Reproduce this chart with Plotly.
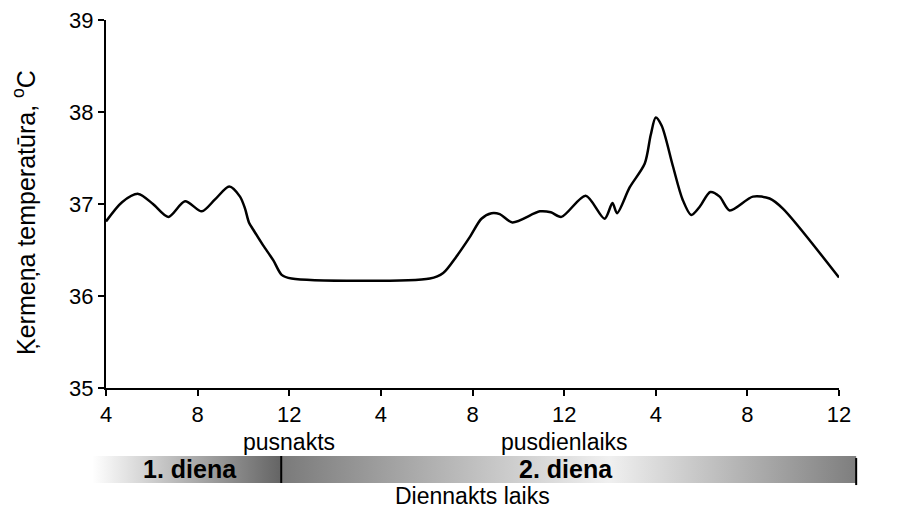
import plotly.graph_objects as go

# ---- data ----
hours = [16.0, 16.7, 17.41, 18.05, 18.72, 19.45, 20.18, 20.76, 21.38, 21.85, 22.07, 22.24,
         22.43, 22.86, 23.30, 23.67, 24.10, 30.14, 30.72, 31.30, 31.88, 32.39, 32.83, 33.19,
         33.74, 34.94, 35.42, 35.88, 36.94, 37.77, 38.11, 38.31, 38.86, 39.52, 39.78, 40.0,
         40.26, 40.75, 41.17, 41.55, 41.92, 42.38, 42.79, 43.23, 44.24, 44.97, 45.55, 48.0]
temps = [36.81, 37.02, 37.11, 37.00, 36.86, 37.03, 36.92, 37.05, 37.19, 37.08, 36.95, 36.80,
         36.72, 36.55, 36.39, 36.23, 36.19, 36.19, 36.25, 36.43, 36.64, 36.84, 36.90, 36.89,
         36.80, 36.92, 36.91, 36.86, 37.09, 36.84, 37.01, 36.90, 37.18, 37.44, 37.75, 37.94,
         37.85, 37.41, 37.05, 36.88, 36.97, 37.13, 37.08, 36.93, 37.08, 37.06, 36.95, 36.20]

tick_vals = [16, 20, 24, 28, 32, 36, 40, 44, 48]
tick_text = ["4", "8", "12", "4", "8", "12", "4", "8", "12"]
y_ticks = [35, 36, 37, 38, 39]

sub_labels = ["pusnakts", "pusdienlaiks", "pusnakts"]
sub_label_hours = [24, 36, 48.75]

day_labels = ["1. diena", "2. diena"]
day_label_hours = [19.65, 36.1]
day_start, day_boundary, day_end = 15.4, 23.65, 48.75

# ---- layout geometry ----
W, H = 903, 510
px_left, px_right, px_top, px_bottom = 106, 839, 20, 388
x_range = [16, 48]
hpp = (x_range[1] - x_range[0]) / (px_right - px_left)
x2_range = [x_range[0] - px_left * hpp, x_range[0] + (W - px_left) * hpp]

font = "Liberation Sans, Arial, sans-serif"
fs = 23
tfs = 22

fig = go.Figure()

bar_bot, bar_top = 1 - 483 / H, 1 - 456 / H

def bar(x0, x1, cs):
    fig.add_trace(go.Scatter(
        x=[x0, x1, x1, x0, x0], y=[bar_bot, bar_bot, bar_top, bar_top, bar_bot],
        xaxis="x2", yaxis="y2", mode="lines", line=dict(width=0),
        fill="toself", fillgradient=dict(type="horizontal", colorscale=cs),
        hoverinfo="skip", showlegend=False))

bar(day_start, day_boundary, [[0, "#ffffff"], [1, "#646464"]])
bar(day_boundary, day_end, [[0, "#7a7a7a"], [0.57, "#f0f0f0"], [1, "#7e7e7e"]])

fig.add_trace(go.Scatter(
    x=hours, y=temps, mode="lines",
    line=dict(color="black", width=2.5, shape="spline", smoothing=0.8),
    hoverinfo="skip", showlegend=False))

for xv, yb, yt in [(day_boundary, bar_bot, bar_top), (day_end, bar_bot - 0.004, bar_top - 0.004)]:
    fig.add_shape(type="line", xref="x2", yref="paper", x0=xv, x1=xv, y0=yb, y1=yt,
                  line=dict(color="black", width=2))

ann = []
for t, hx in zip(sub_labels, sub_label_hours):
    ann.append(dict(text=t, x=hx, y=1 - 442 / H, xref="x", yref="paper",
                    xanchor="center", yanchor="middle",
                    showarrow=False, font=dict(size=fs, color="black", family=font)))
for t, hx in zip(day_labels, day_label_hours):
    ann.append(dict(text="<b>" + t + "</b>", x=hx, y=1 - 469 / H, xref="x2", yref="paper",
                    xanchor="center", yanchor="middle",
                    showarrow=False, font=dict(size=25, color="black", family=font)))
ann.append(dict(text="Diennakts laiks", x=(x_range[0] + x_range[1]) / 2, y=1 - 496 / H,
                xref="x", yref="paper", xanchor="center", yanchor="middle", showarrow=False,
                font=dict(size=fs, color="black", family=font)))
ann.append(dict(text="Ķermeņa temperatūra, <sup>o</sup>C", x=24 / W, y=1 - 213 / H,
                xref="paper", yref="paper", xanchor="center", yanchor="middle",
                textangle=-90, showarrow=False,
                font=dict(size=25, color="black", family=font)))

fig.update_layout(
    width=W, height=H,
    margin=dict(l=0, r=0, t=0, b=0, autoexpand=False),
    paper_bgcolor="white", plot_bgcolor="rgba(0,0,0,0)",
    font=dict(family=font, color="black", size=fs),
    xaxis=dict(domain=[px_left / W, px_right / W], range=x_range,
               tickvals=tick_vals, ticktext=tick_text, ticks="outside", ticklen=6,
               tickwidth=2, tickcolor="black", showline=True, linecolor="black",
               linewidth=2, showgrid=False, zeroline=False, anchor="y",
               tickfont=dict(size=tfs, family=font, color="black")),
    yaxis=dict(domain=[1 - px_bottom / H, 1 - px_top / H], range=[35, 39],
               tickvals=y_ticks, ticks="outside", ticklen=6, tickwidth=2,
               tickcolor="black", showline=True, linecolor="black", linewidth=2,
               showgrid=False, zeroline=False, anchor="x",
               tickfont=dict(size=tfs, family=font, color="black")),
    xaxis2=dict(domain=[0, 1], range=x2_range, visible=False, anchor="y2"),
    yaxis2=dict(domain=[0, 1], range=[0, 1], visible=False, anchor="x2"),
    annotations=ann,
)

fig.write_html("out.html")
